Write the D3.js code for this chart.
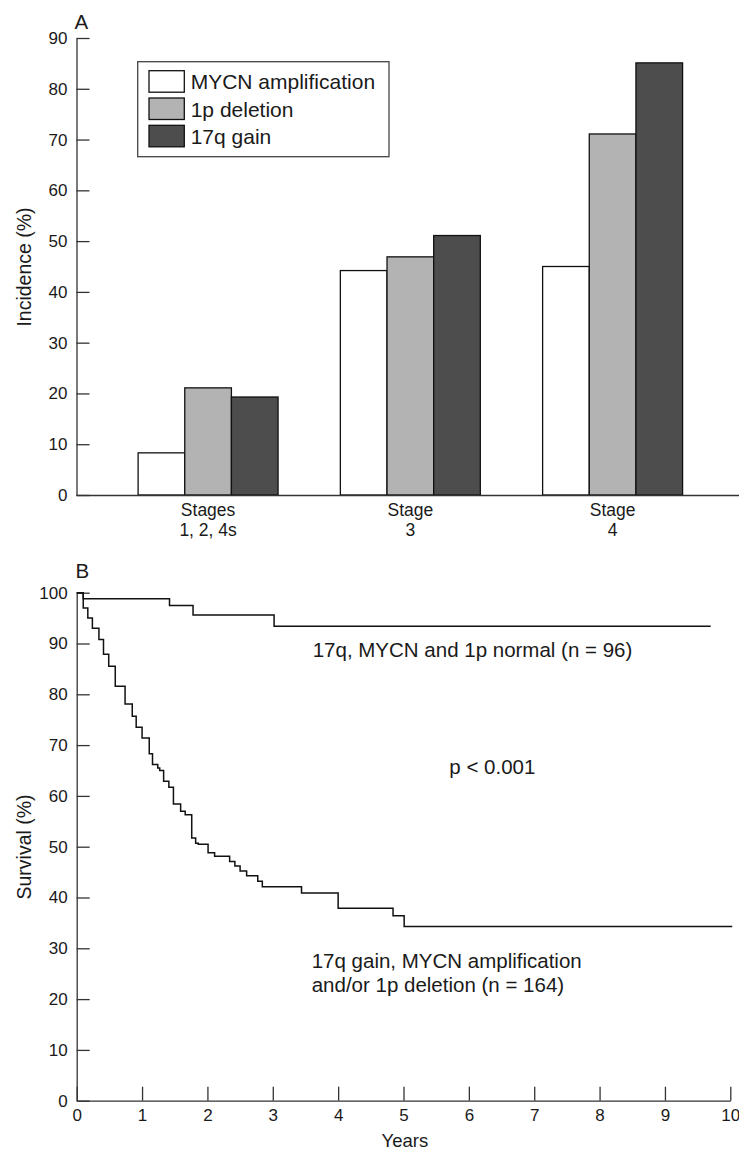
<!DOCTYPE html>
<html>
<head>
<meta charset="utf-8">
<script src="https://cdn.jsdelivr.net/npm/d3@7"></script>
<style>
  body { margin: 0; background: #fff; }
  svg { display: block; font-family: 'Liberation Sans', Arial, Helvetica, sans-serif; }
  .axis path, .axis line { stroke: #333; stroke-width: 1.3; }
  .axis text { fill: #1a1a1a; }
  .note { font-size: 20.5px; fill: #1a1a1a; }
</style>
</head>
<body>
<svg width="739" height="1150"></svg>
<script>
'use strict';

// panel A - incidence by stage
var categories = ['Stages|1, 2, 4s', 'Stage|3', 'Stage|4'];
var seriesNames = ['MYCN amplification', '1p deletion', '17q gain'];
var mycnAmp = [8.3, 44.2, 45.0];
var del1p = [21.1, 46.9, 71.1];
var gain17q = [19.3, 51.1, 85.1];
var incidenceTicks = [0, 10, 20, 30, 40, 50, 60, 70, 80, 90];

// panel B - survival curves (year of step, survival after step)
var normalYears = [0, 0.10, 1.42, 1.78, 3.02, 9.70];
var normalSurv = [100, 98.8, 97.5, 95.6, 93.4, 93.4];
var abnormalYears = [0, 0.10, 0.17, 0.24, 0.34, 0.41, 0.49, 0.59, 0.74, 0.85, 0.91, 1.00,
    1.11, 1.16, 1.24, 1.27, 1.33, 1.41, 1.48, 1.59, 1.66, 1.76, 1.82, 1.86, 2.01, 2.11,
    2.34, 2.42, 2.50, 2.60, 2.77, 2.84, 3.44, 4.00, 4.84, 5.01, 10.03];
var abnormalSurv = [100, 97.0, 95.0, 93.0, 90.8, 87.9, 85.5, 81.6, 78.1, 75.7, 73.5, 71.4,
    68.3, 66.2, 65.5, 65.0, 62.9, 61.7, 58.4, 57.0, 56.3, 51.7, 50.7, 50.5, 48.8, 48.1,
    47.1, 46.2, 45.2, 44.3, 43.2, 42.1, 40.9, 37.9, 36.4, 34.3, 34.3];
var survivalTicks = [0, 10, 20, 30, 40, 50, 60, 70, 80, 90, 100];
var yearTicks = [0, 1, 2, 3, 4, 5, 6, 7, 8, 9, 10];

var svg = d3.select('svg');
var fillColors = ['#ffffff', '#b3b3b3', '#4d4d4d'];

function styleAxis(g, size) {
    g.attr('font-size', size)
        .attr('font-family', null);
}

function drawIncidence() {
    var seriesValues = [mycnAmp, del1p, gain17q];

    var y = d3.scaleLinear()
        .domain([0, 90])
        .range([495, 38]);

    var x0 = d3.scaleBand()
        .domain(categories)
        .range([76, 739])
        .paddingInner(0.308)
        .paddingOuter(0.293)
        .align(0.524);

    var x1 = d3.scaleBand()
        .domain(seriesNames)
        .range([0, x0.bandwidth()]);

    var color = d3.scaleOrdinal()
        .domain(seriesNames)
        .range(fillColors);

    var groups = svg.append('g').selectAll('g')
        .data(categories)
        .enter()
        .append('g')
        .attr('transform', function(d) { return 'translate(' + x0(d) + ',0)'; });

    groups.selectAll('rect')
        .data(function(d, i) {
            return seriesNames.map(function(s, j) {
                return { series: s, value: seriesValues[j][i] };
            });
        })
        .enter()
        .append('rect')
        .attr('x', function(d) { return x1(d.series); })
        .attr('y', function(d) { return y(d.value); })
        .attr('width', x1.bandwidth())
        .attr('height', function(d) { return y(0) - y(d.value); })
        .attr('fill', function(d) { return color(d.series); })
        .attr('stroke', '#111')
        .attr('stroke-width', 1.3);

    var axisX = d3.axisBottom(x0)
        .tickSize(0)
        .tickSizeOuter(0)
        .tickPadding(8.3);

    var gx = svg.append('g')
        .attr('class', 'axis')
        .attr('transform', 'translate(0,' + y(0) + ')')
        .call(axisX);
    styleAxis(gx, 17.5);

    gx.selectAll('.tick text').each(function(d) {
        var t = d3.select(this);
        var lines = d.split('|');
        t.text(null);
        t.append('tspan').attr('x', 0).text(lines[0]);
        t.append('tspan').attr('x', 0).attr('dy', '1.17em').text(lines[1]);
    });

    var axisY = d3.axisLeft(y)
        .tickValues(incidenceTicks)
        .tickSize(-13)
        .tickSizeOuter(0)
        .tickPadding(9);

    var gy = svg.append('g')
        .attr('class', 'axis')
        .attr('transform', 'translate(76.5,0)')
        .call(axisY);
    styleAxis(gy, 17);

    // legend
    var legend = svg.append('g');
    legend.append('rect')
        .attr('x', 137.7).attr('y', 61.7)
        .attr('width', 251.3).attr('height', 95)
        .attr('fill', '#fff')
        .attr('stroke', '#444')
        .attr('stroke-width', 1.3);

    var rows = legend.selectAll('g.row')
        .data(seriesNames)
        .enter()
        .append('g')
        .attr('class', 'row')
        .attr('transform', function(d, i) { return 'translate(149,' + (70.7 + i * 27.3) + ')'; });

    rows.append('rect')
        .attr('width', 35.3)
        .attr('height', 21.5)
        .attr('fill', function(d) { return color(d); })
        .attr('stroke', '#111')
        .attr('stroke-width', 1.3);

    rows.append('text')
        .attr('x', 41.7)
        .attr('y', 18.6)
        .attr('font-size', 21)
        .attr('fill', '#1a1a1a')
        .text(function(d) { return d; });

    svg.append('text')
        .attr('x', 74.5).attr('y', 28.5)
        .attr('font-size', 20.5)
        .attr('fill', '#1a1a1a')
        .text('A');

    svg.append('text')
        .attr('transform', 'translate(31,267) rotate(-90)')
        .attr('text-anchor', 'middle')
        .attr('font-size', 19.5)
        .attr('fill', '#1a1a1a')
        .text('Incidence (%)');
}

function drawSurvival() {
    var x = d3.scaleLinear()
        .domain([0, 10])
        .range([76.7, 730.3]);

    var y = d3.scaleLinear()
        .domain([0, 100])
        .range([1100.7, 592.7]);

    var axisX = d3.axisBottom(x)
        .tickValues(yearTicks)
        .tickSize(-14)
        .tickSizeOuter(0)
        .tickPadding(8.7);

    var axisY = d3.axisLeft(y)
        .tickValues(survivalTicks)
        .tickSize(-13)
        .tickSizeOuter(0)
        .tickPadding(9);

    var gx = svg.append('g')
        .attr('class', 'axis')
        .attr('transform', 'translate(0,' + y(0) + ')')
        .call(axisX);
    styleAxis(gx, 17);

    var gy = svg.append('g')
        .attr('class', 'axis')
        .attr('transform', 'translate(' + x(0) + ',0)')
        .call(axisY);
    styleAxis(gy, 17);

    var line = d3.line()
        .x(function(d) { return x(d[0]); })
        .y(function(d) { return y(d[1]); })
        .curve(d3.curveStepAfter);

    svg.selectAll('path.curve')
        .data([d3.zip(normalYears, normalSurv), d3.zip(abnormalYears, abnormalSurv)])
        .enter()
        .append('path')
        .attr('class', 'curve')
        .attr('d', line)
        .attr('fill', 'none')
        .attr('stroke', '#111')
        .attr('stroke-width', 1.5);

    svg.append('text')
        .attr('class', 'note')
        .attr('x', 312.7).attr('y', 657)
        .text('17q, MYCN and 1p normal (n = 96)');

    svg.append('text')
        .attr('class', 'note')
        .attr('x', 449.3).attr('y', 774.3)
        .text('p < 0.001');

    var note = svg.append('text')
        .attr('class', 'note')
        .attr('x', 311.7).attr('y', 968.3);
    note.append('tspan').attr('x', 311.7).text('17q gain, MYCN amplification');
    note.append('tspan').attr('x', 311.7).attr('dy', 23.4).text('and/or 1p deletion (n = 164)');

    svg.append('text')
        .attr('x', 75.5).attr('y', 578)
        .attr('font-size', 20.5)
        .attr('fill', '#1a1a1a')
        .text('B');

    svg.append('text')
        .attr('transform', 'translate(31,847) rotate(-90)')
        .attr('text-anchor', 'middle')
        .attr('font-size', 19.5)
        .attr('fill', '#1a1a1a')
        .text('Survival (%)');

    svg.append('text')
        .attr('x', 404.9).attr('y', 1147)
        .attr('text-anchor', 'middle')
        .attr('font-size', 18.5)
        .attr('fill', '#1a1a1a')
        .text('Years');
}

drawIncidence();
drawSurvival();
</script>
</body>
</html>
